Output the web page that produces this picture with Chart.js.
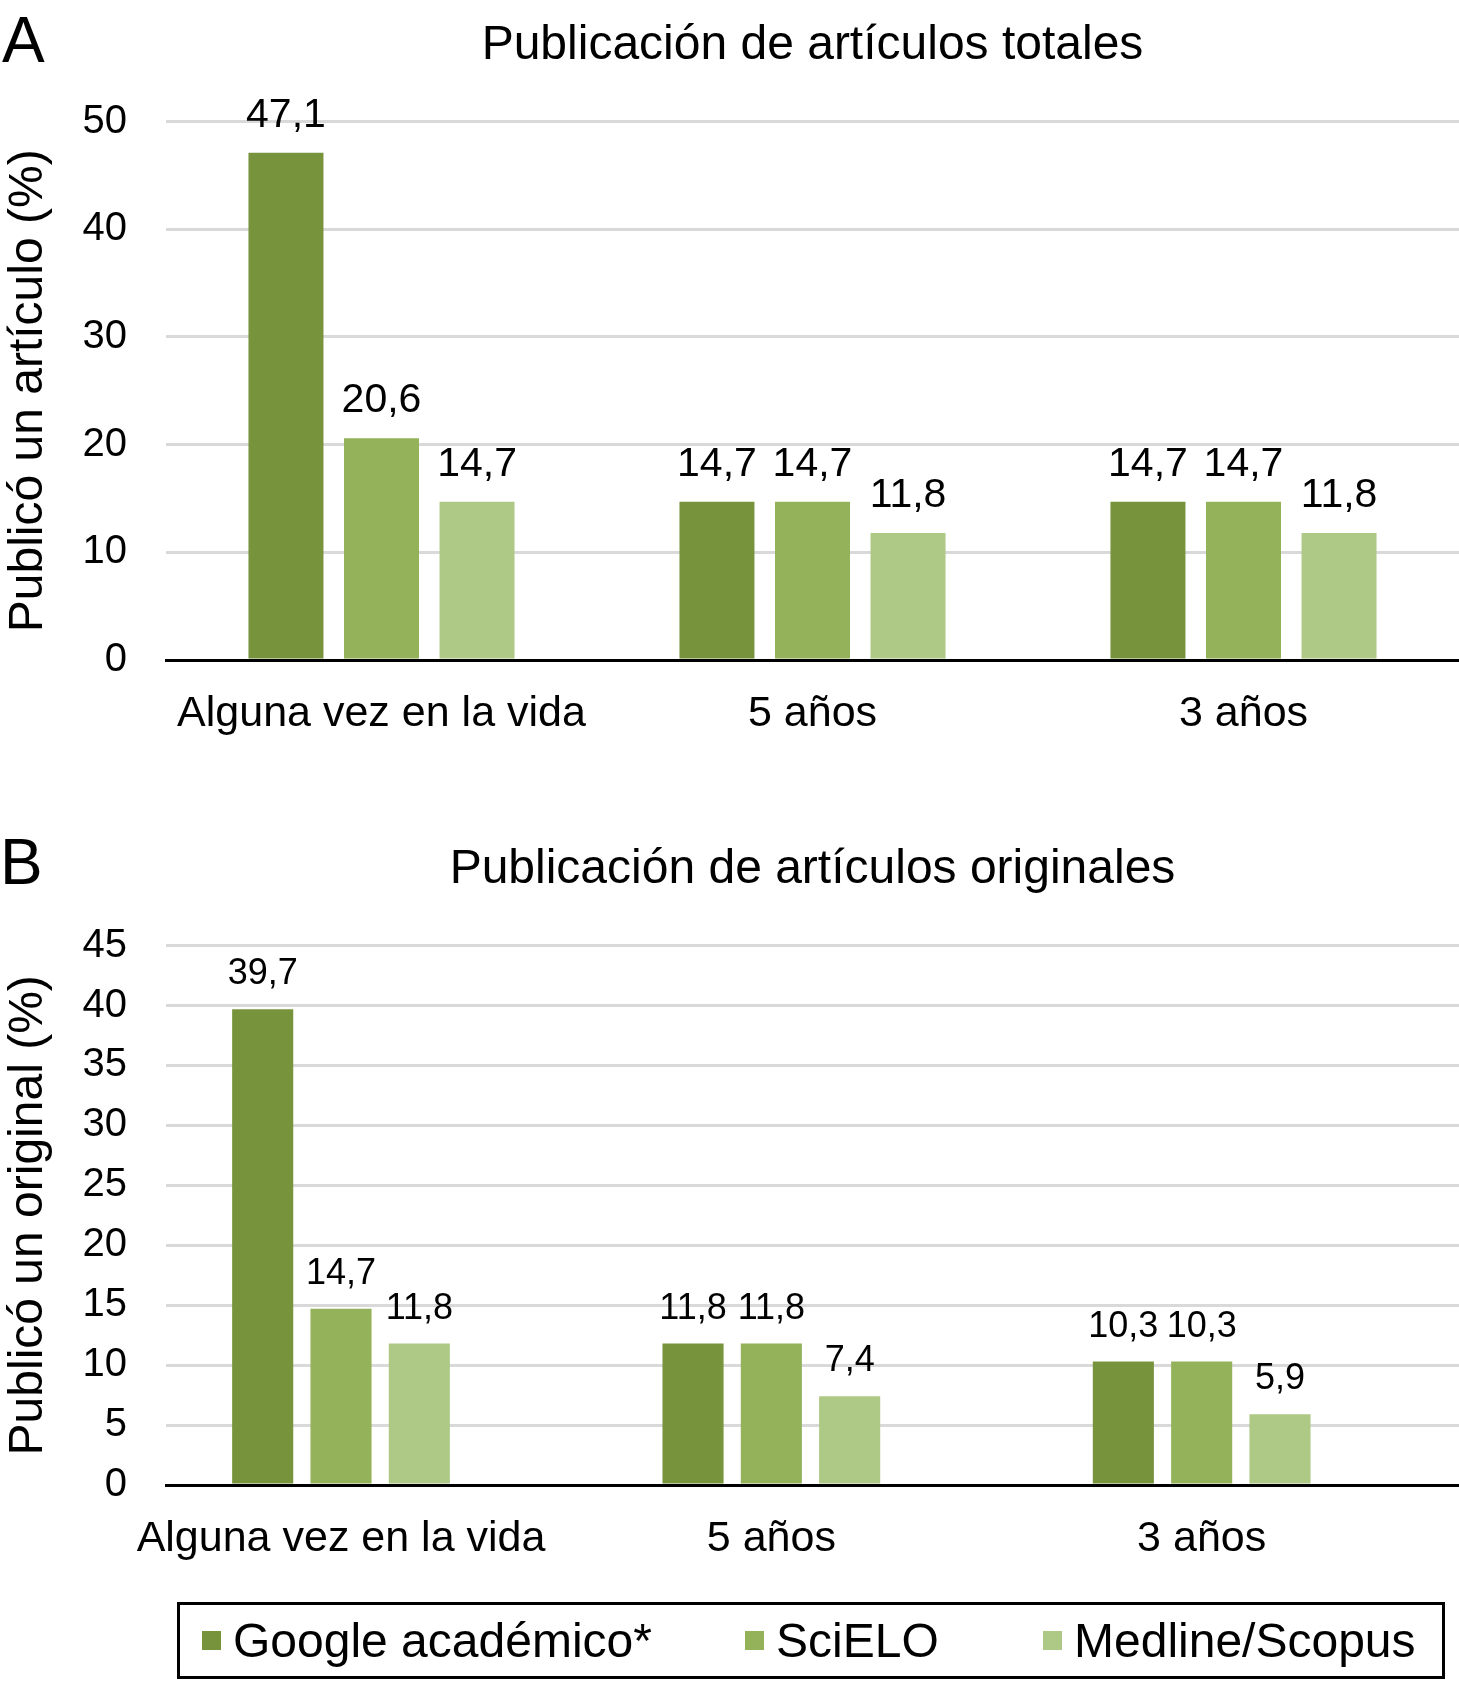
<!DOCTYPE html>
<html lang="es">
<head>
<meta charset="UTF-8" />
<title>Publicación de artículos</title>
<style>
  body {
    margin: 0;
    background: #fff;
    font-family: "Liberation Sans", Arial, sans-serif;
    color: #000;
  }
  #page {
    position: relative;
    width: 1459px;
    height: 1682px;
    overflow: hidden;
  }
  .panel {
    position: absolute;
    left: 0;
    width: 1459px;
  }
  .tag {
    position: absolute;
    font-size: 64px;
    line-height: 64px;
  }
  #legendBox {
    position: absolute;
    left: 177px;
    top: 1602px;
    width: 1268px;
    height: 77px;
    border: 3px solid #000;
    box-sizing: border-box;
  }
  .item {
    position: absolute;
    top: 0;
    height: 100%;
    display: flex;
    align-items: center;
    font-size: 48px;
    line-height: 1;
    white-space: nowrap;
  }
  .item span.sw {
    width: 19px;
    height: 19px;
    margin-right: 12px;
  }
</style>
</head>
<body>
<div id="page">
  <div class="tag" style="left:2px; top:8px;">A</div>
  <div class="tag" style="left:0px; top:830px;">B</div>

  <div class="panel" style="top:0; height:760px;">
    <canvas id="chartA"></canvas>
  </div>
  <div class="panel" style="top:780px; height:902px;">
    <canvas id="chartB"></canvas>
  </div>

  <div id="legendBox"></div>
</div>

<script src="https://cdn.jsdelivr.net/npm/chart.js"></script>
<script>
  // Data
  const categories = ['Alguna vez en la vida', '5 años', '3 años'];
  const seriesNames = ['Google académico*', 'SciELO', 'Medline/Scopus'];
  const barColors = ['#77933C', '#94B25A', '#AEC886'];

  // A: total articles
  const googleA = [47.1, 14.7, 14.7];
  const scieloA = [20.6, 14.7, 14.7];
  const medlineA = [14.7, 11.8, 11.8];
  const yTicksA = [0, 10, 20, 30, 40, 50];

  // B: original articles
  const googleB = [39.7, 11.8, 10.3];
  const scieloB = [14.7, 11.8, 10.3];
  const medlineB = [11.8, 7.4, 5.9];
  const yTicksB = [0, 5, 10, 15, 20, 25, 30, 35, 40, 45];

  Chart.defaults.font.family = '"Liberation Sans", Arial, sans-serif';
  Chart.defaults.color = '#000';

  // Numbers above bars, with decimal comma
  const valueLabels = {
    id: 'valueLabels',
    afterDatasetsDraw(chart, args, opts) {
      const ctx = chart.ctx;
      ctx.save();
      ctx.font = opts.size + 'px "Liberation Sans", Arial, sans-serif';
      ctx.fillStyle = '#000';
      ctx.textAlign = 'center';
      ctx.textBaseline = 'alphabetic';
      chart.data.datasets.forEach((ds, i) => {
        chart.getDatasetMeta(i).data.forEach((bar, j) => {
          const v = ds.data[j];
          const val = typeof v === 'object' ? v.y : v;
          ctx.fillText(val.toFixed(1).replace('.', ','), bar.x, bar.y - opts.gap);
        });
      });
      ctx.restore();
    }
  };

  function yScale(ticks, title) {
    return {
      min: ticks[0],
      max: ticks[ticks.length - 1],
      afterBuildTicks: s => { s.ticks = ticks.map(v => ({ value: v })); },
      afterFit: s => { s.width = 166; },
      ticks: { font: { size: 40 }, padding: 39 },
      grid: {
        color: c => c.tick && c.tick.value === 0 ? 'rgba(0,0,0,0)' : '#d9d9d9',
        lineWidth: 3,
        drawTicks: false
      },
      border: { display: false },
      title: { display: true, text: title, font: { size: 48 }, padding: 0 }
    };
  }

  // Panel A
  new Chart(document.getElementById('chartA'), {
    type: 'bar',
    data: {
      labels: categories,
      datasets: [googleA, scieloA, medlineA].map((d, i) => ({
        label: seriesNames[i],
        data: d,
        backgroundColor: barColors[i],
        borderWidth: 0,
        categoryPercentage: 0.665,
        barPercentage: 0.785
      }))
    },
    options: {
      responsive: true,
      maintainAspectRatio: false,
      animation: false,
      layout: { padding: 0 },
      plugins: {
        legend: { display: false },
        tooltip: { enabled: false },
        title: {
          display: true,
          text: 'Publicación de artículos totales',
          fullSize: false,
          font: { size: 48, weight: 'normal' },
          padding: { top: 17, bottom: 47 }
        },
        valueLabels: { size: 41, gap: 26 }
      },
      scales: {
        x: {
          offset: true,
          afterFit: s => { s.height = 100; },
          grid: { display: false, drawTicks: false },
          border: { display: true, color: '#000', width: 3 },
          ticks: { font: { size: 43 }, padding: 28, maxRotation: 0, autoSkip: false }
        },
        y: yScale(yTicksA, 'Publicó un artículo (%)')
      }
    },
    plugins: [valueLabels]
  });

  // Panel B (groups sit a little left of the even spacing, so a linear x axis)
  new Chart(document.getElementById('chartB'), {
    type: 'bar',
    data: {
      labels: [0, 1, 2],
      datasets: [googleB, scieloB, medlineB].map((d, i) => ({
        label: seriesNames[i],
        data: d.map((v, k) => ({ x: k, y: v })),
        backgroundColor: barColors[i],
        borderWidth: 0,
        categoryPercentage: 0.546,
        barPercentage: 0.78
      }))
    },
    options: {
      responsive: true,
      maintainAspectRatio: false,
      animation: false,
      layout: { padding: 0 },
      plugins: {
        legend: { display: false },
        tooltip: { enabled: false },
        title: {
          display: true,
          text: 'Publicación de artículos originales',
          fullSize: false,
          font: { size: 48, weight: 'normal' },
          padding: { top: 61, bottom: 47 }
        },
        valueLabels: { size: 36, gap: 25 }
      },
      scales: {
        x: {
          type: 'linear',
          offset: false,
          min: -0.4067,
          max: 2.598,
          afterBuildTicks: s => { s.ticks = categories.map((c, k) => ({ value: k })); },
          afterFit: s => { s.height = 197; },
          grid: { display: false, drawTicks: false, offset: false },
          border: { display: true, color: '#000', width: 3 },
          ticks: {
            font: { size: 43 },
            padding: 28,
            maxRotation: 0,
            autoSkip: false,
            callback: v => categories[v]
          }
        },
        y: yScale(yTicksB, 'Publicó un original (%)')
      }
    },
    plugins: [valueLabels]
  });

  // Legend in a framed box under panel B
  const legendBox = document.getElementById('legendBox');
  const itemLefts = [22, 565, 863];
  seriesNames.forEach((name, i) => {
    const item = document.createElement('div');
    item.className = 'item';
    item.style.left = itemLefts[i] + 'px';
    const sw = document.createElement('span');
    sw.className = 'sw';
    sw.style.background = barColors[i];
    item.appendChild(sw);
    item.appendChild(document.createTextNode(name));
    legendBox.appendChild(item);
  });
</script>
</body>
</html>
